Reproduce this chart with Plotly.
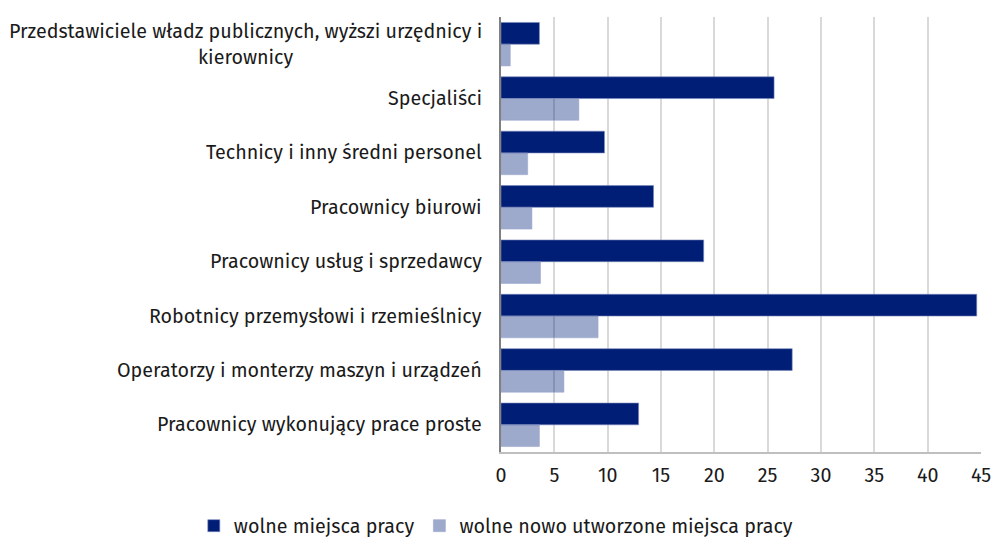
import plotly.graph_objects as go

categories = [
    "Przedstawiciele władz publicznych, wyższi urzędnicy i<br>kierownicy",
    "Specjaliści",
    "Technicy i inny średni personel",
    "Pracownicy biurowi",
    "Pracownicy usług i sprzedawcy",
    "Robotnicy przemysłowi i rzemieślnicy",
    "Operatorzy i monterzy maszyn i urządzeń",
    "Pracownicy wykonujący prace proste",
]
series_names = ["wolne miejsca pracy", "wolne nowo utworzone miejsca pracy"]
vacancies = [3.6, 25.6, 9.7, 14.3, 19.0, 44.6, 27.3, 12.9]
new_vacancies = [0.87, 7.3, 2.5, 2.9, 3.7, 9.1, 5.9, 3.6]
x_ticks = [0, 5, 10, 15, 20, 25, 30, 35, 40, 45]

FONT = "Fira Sans, Noto Sans, Open Sans, sans-serif"
FS = 19.7

fig = go.Figure()
fig.add_trace(go.Bar(
    y=categories, x=vacancies, name=series_names[0], orientation="h",
    marker=dict(color="#001E75", line=dict(color="rgba(120,135,190,0.6)", width=1)),
))
fig.add_trace(go.Bar(
    y=categories, x=new_vacancies, name=series_names[1], orientation="h",
    marker=dict(color="rgba(0,31,119,0.38)", line=dict(color="rgba(150,160,205,0.5)", width=1)),
))

for c in categories:
    fig.add_annotation(
        x=0, y=c, xref="x", yref="y", text=c, showarrow=False,
        xanchor="right", yanchor="middle", align="center", xshift=-17,
        font=dict(family=FONT, size=FS, color="#1a1a1a"),
    )

fig.update_layout(
    width=993, height=537,
    margin=dict(l=501, r=12, t=17, b=85, autoexpand=False),
    barmode="group", bargap=0.2, bargroupgap=0,
    plot_bgcolor="white", paper_bgcolor="white",
    font=dict(family=FONT, size=FS, color="#1a1a1a"),
    showlegend=True,
    legend=dict(
        orientation="h", x=-0.64, xanchor="left",
        y=-0.125, yanchor="top", traceorder="normal",
        bgcolor="rgba(0,0,0,0)",
        font=dict(family=FONT, size=FS, color="#1a1a1a"),
        itemwidth=30,
    ),
)
fig.update_xaxes(
    range=[0, 45], tickvals=x_ticks, ticktext=[str(t) for t in x_ticks],
    showgrid=True, gridcolor="#d9d9d9", gridwidth=1.5,
    showline=True, linecolor="#bfbfbf", linewidth=1.5, automargin=False,
    ticks="", zeroline=False, tickfont=dict(size=FS), ticklabelstandoff=5,
)
fig.update_yaxes(
    autorange="reversed", showticklabels=False, showgrid=False, automargin=False,
    showline=True, linecolor="#808080", linewidth=2, ticks="", zeroline=False,
)

fig.write_html(
    "out.html",
    config={"displayModeBar": False},
    post_script="document.body.style.margin='0';document.body.style.overflow='hidden';",
)
